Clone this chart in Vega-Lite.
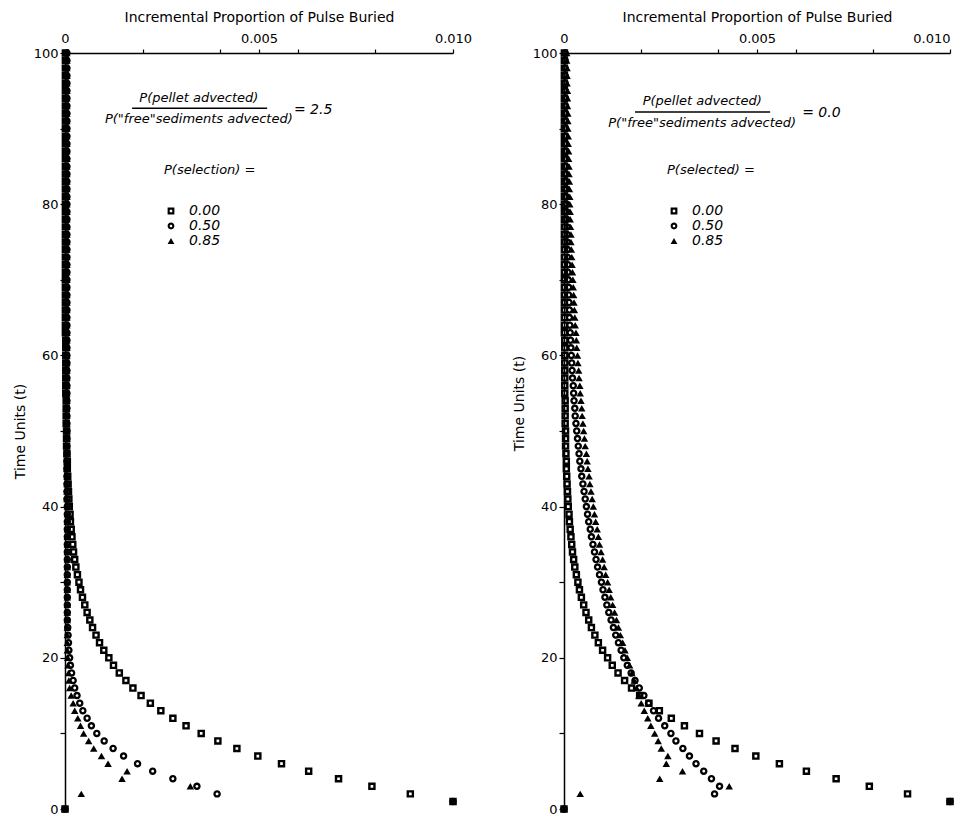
{
"$schema":"https://vega.github.io/schema/vega-lite/v6.json",
"background":"white",
"padding":{"left":13,"top":10,"right":5,"bottom":5},
"config":{"font":"DejaVu Sans","view":{"stroke":null},
"axis":{"grid":false,"domainColor":"black","domainWidth":1.5,"tickColor":"black","tickWidth":1.2,"labelColor":"black","titleColor":"black","labelFont":"DejaVu Sans","titleFont":"DejaVu Sans","titleFontWeight":"normal","labelFontSize":13,"titleFontSize":14},
"legend":{"titleFont":"DejaVu Sans","titleFontStyle":"italic","titleFontWeight":"normal","titleFontSize":13,"titleColor":"black","labelFont":"DejaVu Sans","labelFontStyle":"italic","labelFontSize":14,"labelColor":"black","symbolFillColor":"black","symbolStrokeWidth":0,"symbolSize":46,"rowPadding":1,"labelOffset":11,"titlePadding":27}},
"datasets":{
"left":[
{"s":"0.00","t":0,"x":0},{"s":"0.00","t":1,"x":0.0100},{"s":"0.00","t":2,"x":0.00890},{"s":"0.00","t":3,"x":0.00791},{"s":"0.00","t":4,"x":0.00705},{"s":"0.00","t":5,"x":0.00628},{"s":"0.00","t":6,"x":0.00558},{"s":"0.00","t":7,"x":0.00497},{"s":"0.00","t":8,"x":0.00443},{"s":"0.00","t":9,"x":0.00394},{"s":"0.00","t":10,"x":0.00351},{"s":"0.00","t":11,"x":0.00312},{"s":"0.00","t":12,"x":0.00278},{"s":"0.00","t":13,"x":0.00247},{"s":"0.00","t":14,"x":0.00220},{"s":"0.00","t":15,"x":0.00196},{"s":"0.00","t":16,"x":0.00175},{"s":"0.00","t":17,"x":0.00157},{"s":"0.00","t":18,"x":0.00140},{"s":"0.00","t":19,"x":0.00125},{"s":"0.00","t":20,"x":0.00113},{"s":"0.00","t":21,"x":0.00100},{"s":"0.00","t":22,"x":0.00089},{"s":"0.00","t":23,"x":0.00080},{"s":"0.00","t":24,"x":0.00071},{"s":"0.00","t":25,"x":0.00064},{"s":"0.00","t":26,"x":0.00057},{"s":"0.00","t":27,"x":0.00051},{"s":"0.00","t":28,"x":0.00045},{"s":"0.00","t":29,"x":0.00040},{"s":"0.00","t":30,"x":0.00036},{"s":"0.00","t":31,"x":0.00032},{"s":"0.00","t":32,"x":0.00028},{"s":"0.00","t":33,"x":0.00025},{"s":"0.00","t":34,"x":0.00022},{"s":"0.00","t":35,"x":0.00020},{"s":"0.00","t":36,"x":0.00018},{"s":"0.00","t":37,"x":0.00016},{"s":"0.00","t":38,"x":0.00014},{"s":"0.00","t":39,"x":0.00013},{"s":"0.00","t":40,"x":0.00011},{"s":"0.00","t":41,"x":0.00010},{"s":"0.00","t":42,"x":0.00009},{"s":"0.00","t":43,"x":0.00008},{"s":"0.00","t":44,"x":0.00007},{"s":"0.00","t":45,"x":0.00006},{"s":"0.00","t":46,"x":0.00006},{"s":"0.00","t":47,"x":0.00005},{"s":"0.00","t":48,"x":0.00004},{"s":"0.00","t":49,"x":0.00004},{"s":"0.00","t":50,"x":0.00004},{"s":"0.00","t":51,"x":0.00003},{"s":"0.00","t":52,"x":0.00003},{"s":"0.00","t":53,"x":0.00003},{"s":"0.00","t":54,"x":0.00003},{"s":"0.00","t":55,"x":0.00002},{"s":"0.00","t":56,"x":0.00002},{"s":"0.00","t":57,"x":0.00002},{"s":"0.00","t":58,"x":0.00002},{"s":"0.00","t":59,"x":0.00002},{"s":"0.00","t":60,"x":0.00002},{"s":"0.00","t":61,"x":0.00002},{"s":"0.00","t":62,"x":0.00002},{"s":"0.00","t":63,"x":0.00001},{"s":"0.00","t":64,"x":0.00001},{"s":"0.00","t":65,"x":0.00001},{"s":"0.00","t":66,"x":0.00001},{"s":"0.00","t":67,"x":0.00001},{"s":"0.00","t":68,"x":0.00001},{"s":"0.00","t":69,"x":0.00001},{"s":"0.00","t":70,"x":0.00001},{"s":"0.00","t":71,"x":0.00001},{"s":"0.00","t":72,"x":0.00001},{"s":"0.00","t":73,"x":0.00001},{"s":"0.00","t":74,"x":0.00001},{"s":"0.00","t":75,"x":0.00001},{"s":"0.00","t":76,"x":0.00001},{"s":"0.00","t":77,"x":0.00001},{"s":"0.00","t":78,"x":0.00001},{"s":"0.00","t":79,"x":0.00001},{"s":"0.00","t":80,"x":0.00001},{"s":"0.00","t":81,"x":0.00001},{"s":"0.00","t":82,"x":0.00001},{"s":"0.00","t":83,"x":0.00001},{"s":"0.00","t":84,"x":0.00001},{"s":"0.00","t":85,"x":0.00001},{"s":"0.00","t":86,"x":0.00001},{"s":"0.00","t":87,"x":0.00001},{"s":"0.00","t":88,"x":0.00001},{"s":"0.00","t":89,"x":0.00001},{"s":"0.00","t":90,"x":0.00001},{"s":"0.00","t":91,"x":0.00001},{"s":"0.00","t":92,"x":0.00001},{"s":"0.00","t":93,"x":0.00001},{"s":"0.00","t":94,"x":0.00001},{"s":"0.00","t":95,"x":0.00001},{"s":"0.00","t":96,"x":0.00001},{"s":"0.00","t":97,"x":0.00001},{"s":"0.00","t":98,"x":0.00001},{"s":"0.00","t":99,"x":0.00001},{"s":"0.00","t":100,"x":0.00001},
{"s":"0.50","t":0,"x":0},{"s":"0.50","t":1,"x":0.0100},{"s":"0.50","t":2,"x":0.00392},{"s":"0.50","t":3,"x":0.00340},{"s":"0.50","t":4,"x":0.00278},{"s":"0.50","t":5,"x":0.00226},{"s":"0.50","t":6,"x":0.00187},{"s":"0.50","t":7,"x":0.00151},{"s":"0.50","t":8,"x":0.00124},{"s":"0.50","t":9,"x":0.00101},{"s":"0.50","t":10,"x":0.00082},{"s":"0.50","t":11,"x":0.00068},{"s":"0.50","t":12,"x":0.00057},{"s":"0.50","t":13,"x":0.00046},{"s":"0.50","t":14,"x":0.00038},{"s":"0.50","t":15,"x":0.00031},{"s":"0.50","t":16,"x":0.00025},{"s":"0.50","t":17,"x":0.00021},{"s":"0.50","t":18,"x":0.00017},{"s":"0.50","t":19,"x":0.00014},{"s":"0.50","t":20,"x":0.00012},{"s":"0.50","t":21,"x":0.00010},{"s":"0.50","t":22,"x":0.00009},{"s":"0.50","t":23,"x":0.00008},{"s":"0.50","t":24,"x":0.00007},{"s":"0.50","t":25,"x":0.00006},{"s":"0.50","t":26,"x":0.00006},{"s":"0.50","t":27,"x":0.00006},{"s":"0.50","t":28,"x":0.00006},{"s":"0.50","t":29,"x":0.00006},{"s":"0.50","t":30,"x":0.00006},{"s":"0.50","t":31,"x":0.00006},{"s":"0.50","t":32,"x":0.00006},{"s":"0.50","t":33,"x":0.00006},{"s":"0.50","t":34,"x":0.00006},{"s":"0.50","t":35,"x":0.00006},{"s":"0.50","t":36,"x":0.00006},{"s":"0.50","t":37,"x":0.00006},{"s":"0.50","t":38,"x":0.00006},{"s":"0.50","t":39,"x":0.00006},{"s":"0.50","t":40,"x":0.00006},{"s":"0.50","t":41,"x":0.00005},{"s":"0.50","t":42,"x":0.00005},{"s":"0.50","t":43,"x":0.00005},{"s":"0.50","t":44,"x":0.00005},{"s":"0.50","t":45,"x":0.00005},{"s":"0.50","t":46,"x":0.00005},{"s":"0.50","t":47,"x":0.00005},{"s":"0.50","t":48,"x":0.00005},{"s":"0.50","t":49,"x":0.00005},{"s":"0.50","t":50,"x":0.00005},{"s":"0.50","t":51,"x":0.00005},{"s":"0.50","t":52,"x":0.00005},{"s":"0.50","t":53,"x":0.00005},{"s":"0.50","t":54,"x":0.00005},{"s":"0.50","t":55,"x":0.00005},{"s":"0.50","t":56,"x":0.00005},{"s":"0.50","t":57,"x":0.00005},{"s":"0.50","t":58,"x":0.00005},{"s":"0.50","t":59,"x":0.00005},{"s":"0.50","t":60,"x":0.00005},{"s":"0.50","t":61,"x":0.00005},{"s":"0.50","t":62,"x":0.00005},{"s":"0.50","t":63,"x":0.00005},{"s":"0.50","t":64,"x":0.00005},{"s":"0.50","t":65,"x":0.00005},{"s":"0.50","t":66,"x":0.00005},{"s":"0.50","t":67,"x":0.00005},{"s":"0.50","t":68,"x":0.00005},{"s":"0.50","t":69,"x":0.00005},{"s":"0.50","t":70,"x":0.00005},{"s":"0.50","t":71,"x":0.00005},{"s":"0.50","t":72,"x":0.00005},{"s":"0.50","t":73,"x":0.00005},{"s":"0.50","t":74,"x":0.00005},{"s":"0.50","t":75,"x":0.00005},{"s":"0.50","t":76,"x":0.00005},{"s":"0.50","t":77,"x":0.00005},{"s":"0.50","t":78,"x":0.00005},{"s":"0.50","t":79,"x":0.00005},{"s":"0.50","t":80,"x":0.00005},{"s":"0.50","t":81,"x":0.00005},{"s":"0.50","t":82,"x":0.00005},{"s":"0.50","t":83,"x":0.00005},{"s":"0.50","t":84,"x":0.00005},{"s":"0.50","t":85,"x":0.00005},{"s":"0.50","t":86,"x":0.00005},{"s":"0.50","t":87,"x":0.00005},{"s":"0.50","t":88,"x":0.00005},{"s":"0.50","t":89,"x":0.00005},{"s":"0.50","t":90,"x":0.00005},{"s":"0.50","t":91,"x":0.00005},{"s":"0.50","t":92,"x":0.00005},{"s":"0.50","t":93,"x":0.00005},{"s":"0.50","t":94,"x":0.00005},{"s":"0.50","t":95,"x":0.00005},{"s":"0.50","t":96,"x":0.00005},{"s":"0.50","t":97,"x":0.00005},{"s":"0.50","t":98,"x":0.00005},{"s":"0.50","t":99,"x":0.00005},{"s":"0.50","t":100,"x":0.00005},
{"s":"0.85","t":0,"x":0},{"s":"0.85","t":1,"x":0.0100},{"s":"0.85","t":2,"x":0.00042},{"s":"0.85","t":3,"x":0.00323},{"s":"0.85","t":4,"x":0.00147},{"s":"0.85","t":5,"x":0.00160},{"s":"0.85","t":6,"x":0.00111},{"s":"0.85","t":7,"x":0.00094},{"s":"0.85","t":8,"x":0.00074},{"s":"0.85","t":9,"x":0.00061},{"s":"0.85","t":10,"x":0.00048},{"s":"0.85","t":11,"x":0.00040},{"s":"0.85","t":12,"x":0.00033},{"s":"0.85","t":13,"x":0.00025},{"s":"0.85","t":14,"x":0.00021},{"s":"0.85","t":15,"x":0.00016},{"s":"0.85","t":16,"x":0.00012},{"s":"0.85","t":17,"x":0.00010},{"s":"0.85","t":18,"x":0.00009},{"s":"0.85","t":19,"x":0.00008},{"s":"0.85","t":20,"x":0.00007},{"s":"0.85","t":21,"x":0.00006},{"s":"0.85","t":22,"x":0.00006},{"s":"0.85","t":23,"x":0.00006},{"s":"0.85","t":24,"x":0.00006},{"s":"0.85","t":25,"x":0.00006},{"s":"0.85","t":26,"x":0.00006},{"s":"0.85","t":27,"x":0.00006},{"s":"0.85","t":28,"x":0.00006},{"s":"0.85","t":29,"x":0.00006},{"s":"0.85","t":30,"x":0.00006},{"s":"0.85","t":31,"x":0.00006},{"s":"0.85","t":32,"x":0.00006},{"s":"0.85","t":33,"x":0.00006},{"s":"0.85","t":34,"x":0.00006},{"s":"0.85","t":35,"x":0.00006},{"s":"0.85","t":36,"x":0.00006},{"s":"0.85","t":37,"x":0.00006},{"s":"0.85","t":38,"x":0.00006},{"s":"0.85","t":39,"x":0.00006},{"s":"0.85","t":40,"x":0.00006},{"s":"0.85","t":41,"x":0.00005},{"s":"0.85","t":42,"x":0.00005},{"s":"0.85","t":43,"x":0.00005},{"s":"0.85","t":44,"x":0.00005},{"s":"0.85","t":45,"x":0.00005},{"s":"0.85","t":46,"x":0.00005},{"s":"0.85","t":47,"x":0.00005},{"s":"0.85","t":48,"x":0.00005},{"s":"0.85","t":49,"x":0.00005},{"s":"0.85","t":50,"x":0.00005},{"s":"0.85","t":51,"x":0.00005},{"s":"0.85","t":52,"x":0.00005},{"s":"0.85","t":53,"x":0.00005},{"s":"0.85","t":54,"x":0.00005},{"s":"0.85","t":55,"x":0.00005},{"s":"0.85","t":56,"x":0.00005},{"s":"0.85","t":57,"x":0.00005},{"s":"0.85","t":58,"x":0.00005},{"s":"0.85","t":59,"x":0.00005},{"s":"0.85","t":60,"x":0.00005},{"s":"0.85","t":61,"x":0.00005},{"s":"0.85","t":62,"x":0.00005},{"s":"0.85","t":63,"x":0.00005},{"s":"0.85","t":64,"x":0.00005},{"s":"0.85","t":65,"x":0.00005},{"s":"0.85","t":66,"x":0.00005},{"s":"0.85","t":67,"x":0.00005},{"s":"0.85","t":68,"x":0.00005},{"s":"0.85","t":69,"x":0.00005},{"s":"0.85","t":70,"x":0.00005},{"s":"0.85","t":71,"x":0.00005},{"s":"0.85","t":72,"x":0.00005},{"s":"0.85","t":73,"x":0.00005},{"s":"0.85","t":74,"x":0.00005},{"s":"0.85","t":75,"x":0.00005},{"s":"0.85","t":76,"x":0.00005},{"s":"0.85","t":77,"x":0.00005},{"s":"0.85","t":78,"x":0.00005},{"s":"0.85","t":79,"x":0.00005},{"s":"0.85","t":80,"x":0.00005},{"s":"0.85","t":81,"x":0.00005},{"s":"0.85","t":82,"x":0.00005},{"s":"0.85","t":83,"x":0.00005},{"s":"0.85","t":84,"x":0.00005},{"s":"0.85","t":85,"x":0.00005},{"s":"0.85","t":86,"x":0.00005},{"s":"0.85","t":87,"x":0.00005},{"s":"0.85","t":88,"x":0.00005},{"s":"0.85","t":89,"x":0.00005},{"s":"0.85","t":90,"x":0.00005},{"s":"0.85","t":91,"x":0.00005},{"s":"0.85","t":92,"x":0.00005},{"s":"0.85","t":93,"x":0.00005},{"s":"0.85","t":94,"x":0.00005},{"s":"0.85","t":95,"x":0.00005},{"s":"0.85","t":96,"x":0.00005},{"s":"0.85","t":97,"x":0.00005},{"s":"0.85","t":98,"x":0.00005},{"s":"0.85","t":99,"x":0.00005},{"s":"0.85","t":100,"x":0.00005}
],
"right":[
{"s":"0.00","t":0,"x":0},{"s":"0.00","t":1,"x":0.0100},{"s":"0.00","t":2,"x":0.00890},{"s":"0.00","t":3,"x":0.00791},{"s":"0.00","t":4,"x":0.00705},{"s":"0.00","t":5,"x":0.00628},{"s":"0.00","t":6,"x":0.00558},{"s":"0.00","t":7,"x":0.00497},{"s":"0.00","t":8,"x":0.00443},{"s":"0.00","t":9,"x":0.00394},{"s":"0.00","t":10,"x":0.00351},{"s":"0.00","t":11,"x":0.00312},{"s":"0.00","t":12,"x":0.00278},{"s":"0.00","t":13,"x":0.00247},{"s":"0.00","t":14,"x":0.00220},{"s":"0.00","t":15,"x":0.00196},{"s":"0.00","t":16,"x":0.00175},{"s":"0.00","t":17,"x":0.00157},{"s":"0.00","t":18,"x":0.00140},{"s":"0.00","t":19,"x":0.00125},{"s":"0.00","t":20,"x":0.00113},{"s":"0.00","t":21,"x":0.00100},{"s":"0.00","t":22,"x":0.00089},{"s":"0.00","t":23,"x":0.00080},{"s":"0.00","t":24,"x":0.00071},{"s":"0.00","t":25,"x":0.00064},{"s":"0.00","t":26,"x":0.00057},{"s":"0.00","t":27,"x":0.00051},{"s":"0.00","t":28,"x":0.00045},{"s":"0.00","t":29,"x":0.00040},{"s":"0.00","t":30,"x":0.00036},{"s":"0.00","t":31,"x":0.00032},{"s":"0.00","t":32,"x":0.00028},{"s":"0.00","t":33,"x":0.00025},{"s":"0.00","t":34,"x":0.00022},{"s":"0.00","t":35,"x":0.00020},{"s":"0.00","t":36,"x":0.00018},{"s":"0.00","t":37,"x":0.00016},{"s":"0.00","t":38,"x":0.00014},{"s":"0.00","t":39,"x":0.00013},{"s":"0.00","t":40,"x":0.00011},{"s":"0.00","t":41,"x":0.00010},{"s":"0.00","t":42,"x":0.00009},{"s":"0.00","t":43,"x":0.00008},{"s":"0.00","t":44,"x":0.00007},{"s":"0.00","t":45,"x":0.00006},{"s":"0.00","t":46,"x":0.00006},{"s":"0.00","t":47,"x":0.00005},{"s":"0.00","t":48,"x":0.00004},{"s":"0.00","t":49,"x":0.00004},{"s":"0.00","t":50,"x":0.00004},{"s":"0.00","t":51,"x":0.00003},{"s":"0.00","t":52,"x":0.00003},{"s":"0.00","t":53,"x":0.00003},{"s":"0.00","t":54,"x":0.00003},{"s":"0.00","t":55,"x":0.00002},{"s":"0.00","t":56,"x":0.00002},{"s":"0.00","t":57,"x":0.00002},{"s":"0.00","t":58,"x":0.00002},{"s":"0.00","t":59,"x":0.00002},{"s":"0.00","t":60,"x":0.00002},{"s":"0.00","t":61,"x":0.00002},{"s":"0.00","t":62,"x":0.00002},{"s":"0.00","t":63,"x":0.00001},{"s":"0.00","t":64,"x":0.00001},{"s":"0.00","t":65,"x":0.00001},{"s":"0.00","t":66,"x":0.00001},{"s":"0.00","t":67,"x":0.00001},{"s":"0.00","t":68,"x":0.00001},{"s":"0.00","t":69,"x":0.00001},{"s":"0.00","t":70,"x":0.00001},{"s":"0.00","t":71,"x":0.00001},{"s":"0.00","t":72,"x":0.00001},{"s":"0.00","t":73,"x":0.00001},{"s":"0.00","t":74,"x":0.00001},{"s":"0.00","t":75,"x":0.00001},{"s":"0.00","t":76,"x":0.00001},{"s":"0.00","t":77,"x":0.00001},{"s":"0.00","t":78,"x":0.00001},{"s":"0.00","t":79,"x":0.00001},{"s":"0.00","t":80,"x":0.00001},{"s":"0.00","t":81,"x":0.00001},{"s":"0.00","t":82,"x":0.00001},{"s":"0.00","t":83,"x":0.00001},{"s":"0.00","t":84,"x":0.00001},{"s":"0.00","t":85,"x":0.00001},{"s":"0.00","t":86,"x":0.00001},{"s":"0.00","t":87,"x":0.00001},{"s":"0.00","t":88,"x":0.00001},{"s":"0.00","t":89,"x":0.00001},{"s":"0.00","t":90,"x":0.00001},{"s":"0.00","t":91,"x":0.00001},{"s":"0.00","t":92,"x":0.00001},{"s":"0.00","t":93,"x":0.00001},{"s":"0.00","t":94,"x":0.00001},{"s":"0.00","t":95,"x":0.00001},{"s":"0.00","t":96,"x":0.00001},{"s":"0.00","t":97,"x":0.00001},{"s":"0.00","t":98,"x":0.00001},{"s":"0.00","t":99,"x":0.00001},{"s":"0.00","t":100,"x":0.00001},
{"s":"0.50","t":0,"x":0},{"s":"0.50","t":1,"x":0.0100},{"s":"0.50","t":2,"x":0.00390},{"s":"0.50","t":3,"x":0.00403},{"s":"0.50","t":4,"x":0.00382},{"s":"0.50","t":5,"x":0.00362},{"s":"0.50","t":6,"x":0.00342},{"s":"0.50","t":7,"x":0.00325},{"s":"0.50","t":8,"x":0.00308},{"s":"0.50","t":9,"x":0.00290},{"s":"0.50","t":10,"x":0.00277},{"s":"0.50","t":11,"x":0.00261},{"s":"0.50","t":12,"x":0.00245},{"s":"0.50","t":13,"x":0.00232},{"s":"0.50","t":14,"x":0.00219},{"s":"0.50","t":15,"x":0.00207},{"s":"0.50","t":16,"x":0.00195},{"s":"0.50","t":17,"x":0.00184},{"s":"0.50","t":18,"x":0.00174},{"s":"0.50","t":19,"x":0.00164},{"s":"0.50","t":20,"x":0.00155},{"s":"0.50","t":21,"x":0.00148},{"s":"0.50","t":22,"x":0.00141},{"s":"0.50","t":23,"x":0.00134},{"s":"0.50","t":24,"x":0.00128},{"s":"0.50","t":25,"x":0.00122},{"s":"0.50","t":26,"x":0.00116},{"s":"0.50","t":27,"x":0.00111},{"s":"0.50","t":28,"x":0.00106},{"s":"0.50","t":29,"x":0.00101},{"s":"0.50","t":30,"x":0.00097},{"s":"0.50","t":31,"x":0.00092},{"s":"0.50","t":32,"x":0.00087},{"s":"0.50","t":33,"x":0.00083},{"s":"0.50","t":34,"x":0.00079},{"s":"0.50","t":35,"x":0.00075},{"s":"0.50","t":36,"x":0.00071},{"s":"0.50","t":37,"x":0.00068},{"s":"0.50","t":38,"x":0.00064},{"s":"0.50","t":39,"x":0.00061},{"s":"0.50","t":40,"x":0.00058},{"s":"0.50","t":41,"x":0.00055},{"s":"0.50","t":42,"x":0.00052},{"s":"0.50","t":43,"x":0.00049},{"s":"0.50","t":44,"x":0.00046},{"s":"0.50","t":45,"x":0.00044},{"s":"0.50","t":46,"x":0.00041},{"s":"0.50","t":47,"x":0.00039},{"s":"0.50","t":48,"x":0.00037},{"s":"0.50","t":49,"x":0.00035},{"s":"0.50","t":50,"x":0.00033},{"s":"0.50","t":51,"x":0.00031},{"s":"0.50","t":52,"x":0.00029},{"s":"0.50","t":53,"x":0.00028},{"s":"0.50","t":54,"x":0.00026},{"s":"0.50","t":55,"x":0.00025},{"s":"0.50","t":56,"x":0.00024},{"s":"0.50","t":57,"x":0.00022},{"s":"0.50","t":58,"x":0.00021},{"s":"0.50","t":59,"x":0.00020},{"s":"0.50","t":60,"x":0.00019},{"s":"0.50","t":61,"x":0.00018},{"s":"0.50","t":62,"x":0.00017},{"s":"0.50","t":63,"x":0.00016},{"s":"0.50","t":64,"x":0.00015},{"s":"0.50","t":65,"x":0.00014},{"s":"0.50","t":66,"x":0.00014},{"s":"0.50","t":67,"x":0.00013},{"s":"0.50","t":68,"x":0.00012},{"s":"0.50","t":69,"x":0.00012},{"s":"0.50","t":70,"x":0.00011},{"s":"0.50","t":71,"x":0.00010},{"s":"0.50","t":72,"x":0.00010},{"s":"0.50","t":73,"x":0.00009},{"s":"0.50","t":74,"x":0.00009},{"s":"0.50","t":75,"x":0.00008},{"s":"0.50","t":76,"x":0.00008},{"s":"0.50","t":77,"x":0.00008},{"s":"0.50","t":78,"x":0.00007},{"s":"0.50","t":79,"x":0.00007},{"s":"0.50","t":80,"x":0.00007},{"s":"0.50","t":81,"x":0.00006},{"s":"0.50","t":82,"x":0.00006},{"s":"0.50","t":83,"x":0.00006},{"s":"0.50","t":84,"x":0.00005},{"s":"0.50","t":85,"x":0.00005},{"s":"0.50","t":86,"x":0.00005},{"s":"0.50","t":87,"x":0.00005},{"s":"0.50","t":88,"x":0.00004},{"s":"0.50","t":89,"x":0.00004},{"s":"0.50","t":90,"x":0.00004},{"s":"0.50","t":91,"x":0.00004},{"s":"0.50","t":92,"x":0.00004},{"s":"0.50","t":93,"x":0.00004},{"s":"0.50","t":94,"x":0.00004},{"s":"0.50","t":95,"x":0.00003},{"s":"0.50","t":96,"x":0.00003},{"s":"0.50","t":97,"x":0.00003},{"s":"0.50","t":98,"x":0.00003},{"s":"0.50","t":99,"x":0.00003},{"s":"0.50","t":100,"x":0.00003},
{"s":"0.85","t":0,"x":0},{"s":"0.85","t":1,"x":0.0100},{"s":"0.85","t":2,"x":0.00042},{"s":"0.85","t":3,"x":0.00428},{"s":"0.85","t":4,"x":0.00248},{"s":"0.85","t":5,"x":0.00307},{"s":"0.85","t":6,"x":0.00265},{"s":"0.85","t":7,"x":0.00269},{"s":"0.85","t":8,"x":0.00252},{"s":"0.85","t":9,"x":0.00244},{"s":"0.85","t":10,"x":0.00235},{"s":"0.85","t":11,"x":0.00225},{"s":"0.85","t":12,"x":0.00217},{"s":"0.85","t":13,"x":0.00208},{"s":"0.85","t":14,"x":0.00200},{"s":"0.85","t":15,"x":0.00194},{"s":"0.85","t":16,"x":0.00188},{"s":"0.85","t":17,"x":0.00182},{"s":"0.85","t":18,"x":0.00176},{"s":"0.85","t":19,"x":0.00170},{"s":"0.85","t":20,"x":0.00164},{"s":"0.85","t":21,"x":0.00158},{"s":"0.85","t":22,"x":0.00152},{"s":"0.85","t":23,"x":0.00146},{"s":"0.85","t":24,"x":0.00141},{"s":"0.85","t":25,"x":0.00136},{"s":"0.85","t":26,"x":0.00131},{"s":"0.85","t":27,"x":0.00126},{"s":"0.85","t":28,"x":0.00121},{"s":"0.85","t":29,"x":0.00117},{"s":"0.85","t":30,"x":0.00113},{"s":"0.85","t":31,"x":0.00108},{"s":"0.85","t":32,"x":0.00104},{"s":"0.85","t":33,"x":0.00100},{"s":"0.85","t":34,"x":0.00096},{"s":"0.85","t":35,"x":0.00092},{"s":"0.85","t":36,"x":0.00089},{"s":"0.85","t":37,"x":0.00086},{"s":"0.85","t":38,"x":0.00082},{"s":"0.85","t":39,"x":0.00079},{"s":"0.85","t":40,"x":0.00076},{"s":"0.85","t":41,"x":0.00073},{"s":"0.85","t":42,"x":0.00070},{"s":"0.85","t":43,"x":0.00067},{"s":"0.85","t":44,"x":0.00065},{"s":"0.85","t":45,"x":0.00062},{"s":"0.85","t":46,"x":0.00060},{"s":"0.85","t":47,"x":0.00058},{"s":"0.85","t":48,"x":0.00055},{"s":"0.85","t":49,"x":0.00053},{"s":"0.85","t":50,"x":0.00051},{"s":"0.85","t":51,"x":0.00049},{"s":"0.85","t":52,"x":0.00047},{"s":"0.85","t":53,"x":0.00046},{"s":"0.85","t":54,"x":0.00044},{"s":"0.85","t":55,"x":0.00042},{"s":"0.85","t":56,"x":0.00041},{"s":"0.85","t":57,"x":0.00039},{"s":"0.85","t":58,"x":0.00038},{"s":"0.85","t":59,"x":0.00036},{"s":"0.85","t":60,"x":0.00035},{"s":"0.85","t":61,"x":0.00033},{"s":"0.85","t":62,"x":0.00032},{"s":"0.85","t":63,"x":0.00031},{"s":"0.85","t":64,"x":0.00029},{"s":"0.85","t":65,"x":0.00028},{"s":"0.85","t":66,"x":0.00027},{"s":"0.85","t":67,"x":0.00026},{"s":"0.85","t":68,"x":0.00025},{"s":"0.85","t":69,"x":0.00024},{"s":"0.85","t":70,"x":0.00023},{"s":"0.85","t":71,"x":0.00022},{"s":"0.85","t":72,"x":0.00021},{"s":"0.85","t":73,"x":0.00020},{"s":"0.85","t":74,"x":0.00019},{"s":"0.85","t":75,"x":0.00018},{"s":"0.85","t":76,"x":0.00018},{"s":"0.85","t":77,"x":0.00017},{"s":"0.85","t":78,"x":0.00016},{"s":"0.85","t":79,"x":0.00016},{"s":"0.85","t":80,"x":0.00015},{"s":"0.85","t":81,"x":0.00015},{"s":"0.85","t":82,"x":0.00014},{"s":"0.85","t":83,"x":0.00014},{"s":"0.85","t":84,"x":0.00013},{"s":"0.85","t":85,"x":0.00013},{"s":"0.85","t":86,"x":0.00012},{"s":"0.85","t":87,"x":0.00012},{"s":"0.85","t":88,"x":0.00011},{"s":"0.85","t":89,"x":0.00011},{"s":"0.85","t":90,"x":0.00010},{"s":"0.85","t":91,"x":0.00010},{"s":"0.85","t":92,"x":0.00010},{"s":"0.85","t":93,"x":0.00009},{"s":"0.85","t":94,"x":0.00009},{"s":"0.85","t":95,"x":0.00009},{"s":"0.85","t":96,"x":0.00008},{"s":"0.85","t":97,"x":0.00008},{"s":"0.85","t":98,"x":0.00008},{"s":"0.85","t":99,"x":0.00007},{"s":"0.85","t":100,"x":0.00007}
],
"leftNotes":[
{"role":"frac","x":0.00345,"t":94.0,"label":"P(pellet advected)"},
{"role":"frac","x":0.00345,"t":91.3,"label":"P(\"free\"sediments advected)"},
{"role":"eq","x":0.0059,"t":92.5,"label":"= 2.5"},
{"role":"bar","x":0.00173,"x2":0.00521,"t":92.7}
],
"rightNotes":[
{"role":"frac","x":0.00358,"t":93.6,"label":"P(pellet advected)"},
{"role":"frac","x":0.00358,"t":90.8,"label":"P(\"free\"sediments advected)"},
{"role":"eq","x":0.00617,"t":92.0,"label":"= 0.0"},
{"role":"bar","x":0.00184,"x2":0.00534,"t":92.2}
]
},
"bounds":"flush",
"spacing":111,
"resolve":{"scale":{"shape":"independent"},"legend":{"shape":"independent"}},
"hconcat":[
{"width":388,"height":756,
"layer":[
{"data":{"name":"left"},
"mark":{"type":"point","filled":true,"color":"black","strokeWidth":0,"size":56,"opacity":1},
"encoding":{
"x":{"field":"x","type":"quantitative","scale":{"domain":[0,0.01],"nice":false},"axis":{"orient":"top","title":"Incremental Proportion of Pulse Buried","values":[0,0.002,0.004,0.005,0.006,0.008,0.01],"labelExpr":"datum.value==0?'0':(abs(datum.value-0.005)<1e-9?'0.005':(abs(datum.value-0.01)<1e-9?'0.010':''))","labelOverlap":false,"labelFlush":false,"tickSize":4,"labelPadding":4,"titlePadding":8}},
"y":{"field":"t","type":"quantitative","scale":{"domain":[0,100],"nice":false},"axis":{"title":"Time Units (t)","values":[0,10,20,30,40,50,60,70,80,90,100],"labelExpr":"datum.value%20==0?datum.label:''","tickSize":5,"labelPadding":2,"titlePadding":6}},
"shape":{"field":"s","type":"nominal","scale":{"domain":["0.00","0.50","0.85"],"range":["M-1,-1H1V1H-1Z M-0.36,-0.36V0.36H0.36V-0.36Z","M-1,0A1,1,0,1,1,1,0A1,1,0,1,1,-1,0Z M-0.38,0A0.38,0.38,0,1,0,0.38,0A0.38,0.38,0,1,0,-0.38,0Z","triangle-up"]},"legend":{"title":"P(selection) =","orient":"none","legendX":99,"legendY":111}}
}},
{"data":{"name":"leftNotes"},"transform":[{"filter":"datum.role=='frac'"}],
"mark":{"type":"text","font":"DejaVu Sans","fontStyle":"italic","fontSize":13,"align":"center","baseline":"middle","color":"black"},
"encoding":{"x":{"field":"x","type":"quantitative"},"y":{"field":"t","type":"quantitative"},"text":{"field":"label"}}},
{"data":{"name":"leftNotes"},"transform":[{"filter":"datum.role=='eq'"}],
"mark":{"type":"text","font":"DejaVu Sans","fontStyle":"italic","fontSize":14,"align":"left","baseline":"middle","color":"black"},
"encoding":{"x":{"field":"x","type":"quantitative"},"y":{"field":"t","type":"quantitative"},"text":{"field":"label"}}},
{"data":{"name":"leftNotes"},"transform":[{"filter":"datum.role=='bar'"}],
"mark":{"type":"rule","strokeWidth":1.5,"color":"black"},
"encoding":{"x":{"field":"x","type":"quantitative"},"x2":{"field":"x2"},"y":{"field":"t","type":"quantitative"}}}
]},
{"width":386,"height":756,
"layer":[
{"data":{"name":"right"},
"mark":{"type":"point","filled":true,"color":"black","strokeWidth":0,"size":56,"opacity":1},
"encoding":{
"x":{"field":"x","type":"quantitative","scale":{"domain":[0,0.01],"nice":false},"axis":{"orient":"top","title":"Incremental Proportion of Pulse Buried","values":[0,0.002,0.004,0.005,0.006,0.008,0.01],"labelExpr":"datum.value==0?'0':(abs(datum.value-0.005)<1e-9?'0.005':(abs(datum.value-0.01)<1e-9?'0.010':''))","labelOverlap":false,"labelFlush":false,"labelAlign":{"condition":{"test":"datum.value>=0.0099","value":"right"},"value":"center"},"tickSize":4,"labelPadding":4,"titlePadding":8}},
"y":{"field":"t","type":"quantitative","scale":{"domain":[0,100],"nice":false},"axis":{"title":"Time Units (t)","values":[0,10,20,30,40,50,60,70,80,90,100],"labelExpr":"datum.value%20==0?datum.label:''","tickSize":5,"labelPadding":2,"titlePadding":6,"titleY":350}},
"shape":{"field":"s","type":"nominal","scale":{"domain":["0.00","0.50","0.85"],"range":["M-1,-1H1V1H-1Z M-0.36,-0.36V0.36H0.36V-0.36Z","M-1,0A1,1,0,1,1,1,0A1,1,0,1,1,-1,0Z M-0.38,0A0.38,0.38,0,1,0,0.38,0A0.38,0.38,0,1,0,-0.38,0Z","triangle-up"]},"legend":{"title":"P(selected) =","orient":"none","legendX":103,"legendY":111}}
}},
{"data":{"name":"rightNotes"},"transform":[{"filter":"datum.role=='frac'"}],
"mark":{"type":"text","font":"DejaVu Sans","fontStyle":"italic","fontSize":13,"align":"center","baseline":"middle","color":"black"},
"encoding":{"x":{"field":"x","type":"quantitative"},"y":{"field":"t","type":"quantitative"},"text":{"field":"label"}}},
{"data":{"name":"rightNotes"},"transform":[{"filter":"datum.role=='eq'"}],
"mark":{"type":"text","font":"DejaVu Sans","fontStyle":"italic","fontSize":14,"align":"left","baseline":"middle","color":"black"},
"encoding":{"x":{"field":"x","type":"quantitative"},"y":{"field":"t","type":"quantitative"},"text":{"field":"label"}}},
{"data":{"name":"rightNotes"},"transform":[{"filter":"datum.role=='bar'"}],
"mark":{"type":"rule","strokeWidth":1.5,"color":"black"},
"encoding":{"x":{"field":"x","type":"quantitative"},"x2":{"field":"x2"},"y":{"field":"t","type":"quantitative"}}}
]}
]
}
